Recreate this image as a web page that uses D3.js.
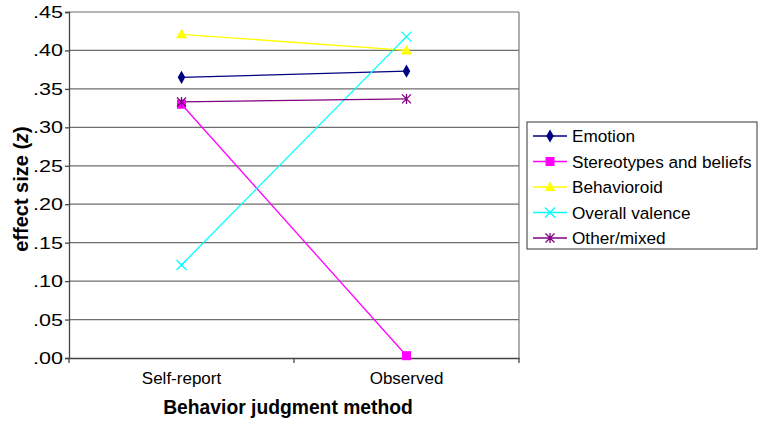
<!DOCTYPE html>
<html>
<head>
<meta charset="utf-8">
<script src="https://cdn.jsdelivr.net/npm/d3@7"></script>
<style>
  html, body { margin: 0; padding: 0; background: #fff; }
  svg { display: block; font-family: "Liberation Sans", Arial, Helvetica, sans-serif; }
</style>
</head>
<body>
<svg id="chart" width="764" height="424"></svg>
<script>
const categories = ["Self-report", "Observed"];
const seriesNames = ["Emotion", "Stereotypes and beliefs", "Behavioroid", "Overall valence", "Other/mixed"];
const emotion = [0.365, 0.373];
const stereotypes = [0.330, 0.003];
const behavioroid = [0.421, 0.400];
const overallValence = [0.121, 0.418];
const otherMixed = [0.333, 0.337];
const yTicks = [0, 0.05, 0.10, 0.15, 0.20, 0.25, 0.30, 0.35, 0.40, 0.45];
const tickLabels = [".00", ".05", ".10", ".15", ".20", ".25", ".30", ".35", ".40", ".45"];
const colors = ["#000080", "#FF00FF", "#FFFF00", "#00FFFF", "#800080"];
const markers = ["diamond", "square", "triangle", "x", "star"];

const series = [emotion, stereotypes, behavioroid, overallValence, otherMixed].map((v, i) => ({
  name: seriesNames[i], values: v, color: colors[i], marker: markers[i]
}));

const svg = d3.select("#chart");
const pLeft = 69, pRight = 519, pTop = 12, pBottom = 358;

const x = d3.scaleBand().domain(categories).range([pLeft, pRight]);
const y = d3.scaleLinear().domain([0, 0.45]).range([pBottom, pTop]);

// gridlines
svg.append("g").selectAll("line").data(yTicks.filter(d => d > 0)).join("line")
  .attr("x1", pLeft).attr("x2", pRight)
  .attr("y1", d => y(d)).attr("y2", d => y(d))
  .attr("stroke", "#6e6e6e").attr("stroke-width", 1.2);

// right border
svg.append("line").attr("x1", pRight).attr("x2", pRight).attr("y1", pTop).attr("y2", pBottom)
  .attr("stroke", "#7a7a7a").attr("stroke-width", 1.2);

// y axis
const yAxis = d3.axisLeft(y).tickValues(yTicks).tickFormat((d, i) => tickLabels[i]).tickSize(4).tickPadding(2);
const gy = svg.append("g").attr("transform", `translate(${pLeft},0)`).call(yAxis);
gy.select(".domain").attr("stroke", "#444").attr("stroke-width", 1.3);
gy.selectAll(".tick line").attr("stroke", "#444").attr("stroke-width", 1.3);
gy.selectAll(".tick text").attr("font-size", 17).attr("fill", "#000")
  .attr("font-family", "Liberation Sans, Arial, sans-serif")
  .attr("textLength", 30).attr("lengthAdjust", "spacingAndGlyphs");

// x axis
const xAxis = d3.axisBottom(x).tickSize(0).tickPadding(14);
const gx = svg.append("g").attr("transform", `translate(0,${pBottom})`).call(xAxis);
gx.select(".domain").attr("stroke", "#444").attr("stroke-width", 1.3);
gx.selectAll(".tick text").attr("font-size", 17).attr("fill", "#000")
  .attr("font-family", "Liberation Sans, Arial, sans-serif");
// category boundary ticks
const bounds = [pLeft, x(categories[1]), pRight];
svg.append("g").selectAll("line").data(bounds).join("line")
  .attr("x1", d => d).attr("x2", d => d).attr("y1", pBottom).attr("y2", pBottom + 5)
  .attr("stroke", "#444").attr("stroke-width", 1.3);

// axis titles
svg.append("text").attr("x", 288).attr("y", 414)
  .attr("text-anchor", "middle").attr("font-size", 19.3).attr("font-weight", "bold")
  .text("Behavior judgment method");

const yt = svg.append("text").attr("transform", `translate(28,189) rotate(-90)`)
  .attr("text-anchor", "middle").attr("font-size", 20).attr("font-weight", "bold");
yt.append("tspan").text("effect size (");
yt.append("tspan").attr("font-style", "italic").text("z");
yt.append("tspan").text(")");

// marker drawing
function drawMarker(g, type, color, cx, cy) {
  if (type === "diamond") {
    g.append("path").attr("d", d3.symbol(d3.symbolDiamond, 50)())
      .attr("transform", `translate(${cx},${cy})`).attr("fill", color);
  } else if (type === "square") {
    g.append("rect").attr("x", cx - 4.5).attr("y", cy - 4.5).attr("width", 9).attr("height", 9).attr("fill", color);
  } else if (type === "triangle") {
    g.append("path").attr("d", `M${cx},${cy - 5.5}L${cx + 5.5},${cy + 4}L${cx - 5.5},${cy + 4}Z`).attr("fill", color);
  } else if (type === "x") {
    g.append("path").attr("d", `M${cx - 5},${cy - 5}L${cx + 5},${cy + 5}M${cx - 5},${cy + 5}L${cx + 5},${cy - 5}`)
      .attr("stroke", color).attr("stroke-width", 1.3).attr("fill", "none");
  } else if (type === "star") {
    g.append("path").attr("d", `M${cx - 4.5},${cy - 4.5}L${cx + 4.5},${cy + 4.5}M${cx - 4.5},${cy + 4.5}L${cx + 4.5},${cy - 4.5}M${cx},${cy - 5}L${cx},${cy + 5}`)
      .attr("stroke", color).attr("stroke-width", 1.3).attr("fill", "none");
  }
}

const line = d3.line().x((d, i) => x(categories[i]) + x.bandwidth() / 2).y(d => y(d));
const plot = svg.append("g");
series.forEach(s => {
  plot.append("path").datum(s.values).attr("d", line)
    .attr("fill", "none").attr("stroke", s.color).attr("stroke-width", 1.3);
});
series.forEach(s => {
  s.values.forEach((v, i) => {
    drawMarker(plot, s.marker, s.color, x(categories[i]) + x.bandwidth() / 2, y(v));
  });
});

// legend
const lg = svg.append("g");
lg.append("rect").attr("x", 527).attr("y", 122).attr("width", 230).attr("height", 127)
  .attr("fill", "#fff").attr("stroke", "#555").attr("stroke-width", 1.2);
series.forEach((s, i) => {
  const cy = 136 + i * 25.5;
  lg.append("line").attr("x1", 533).attr("x2", 567).attr("y1", cy).attr("y2", cy)
    .attr("stroke", s.color).attr("stroke-width", 1.3);
  drawMarker(lg, s.marker, s.color, 550, cy);
  lg.append("text").attr("x", 572).attr("y", cy + 6).attr("font-size", 17.2).text(s.name);
});
</script>
</body>
</html>
